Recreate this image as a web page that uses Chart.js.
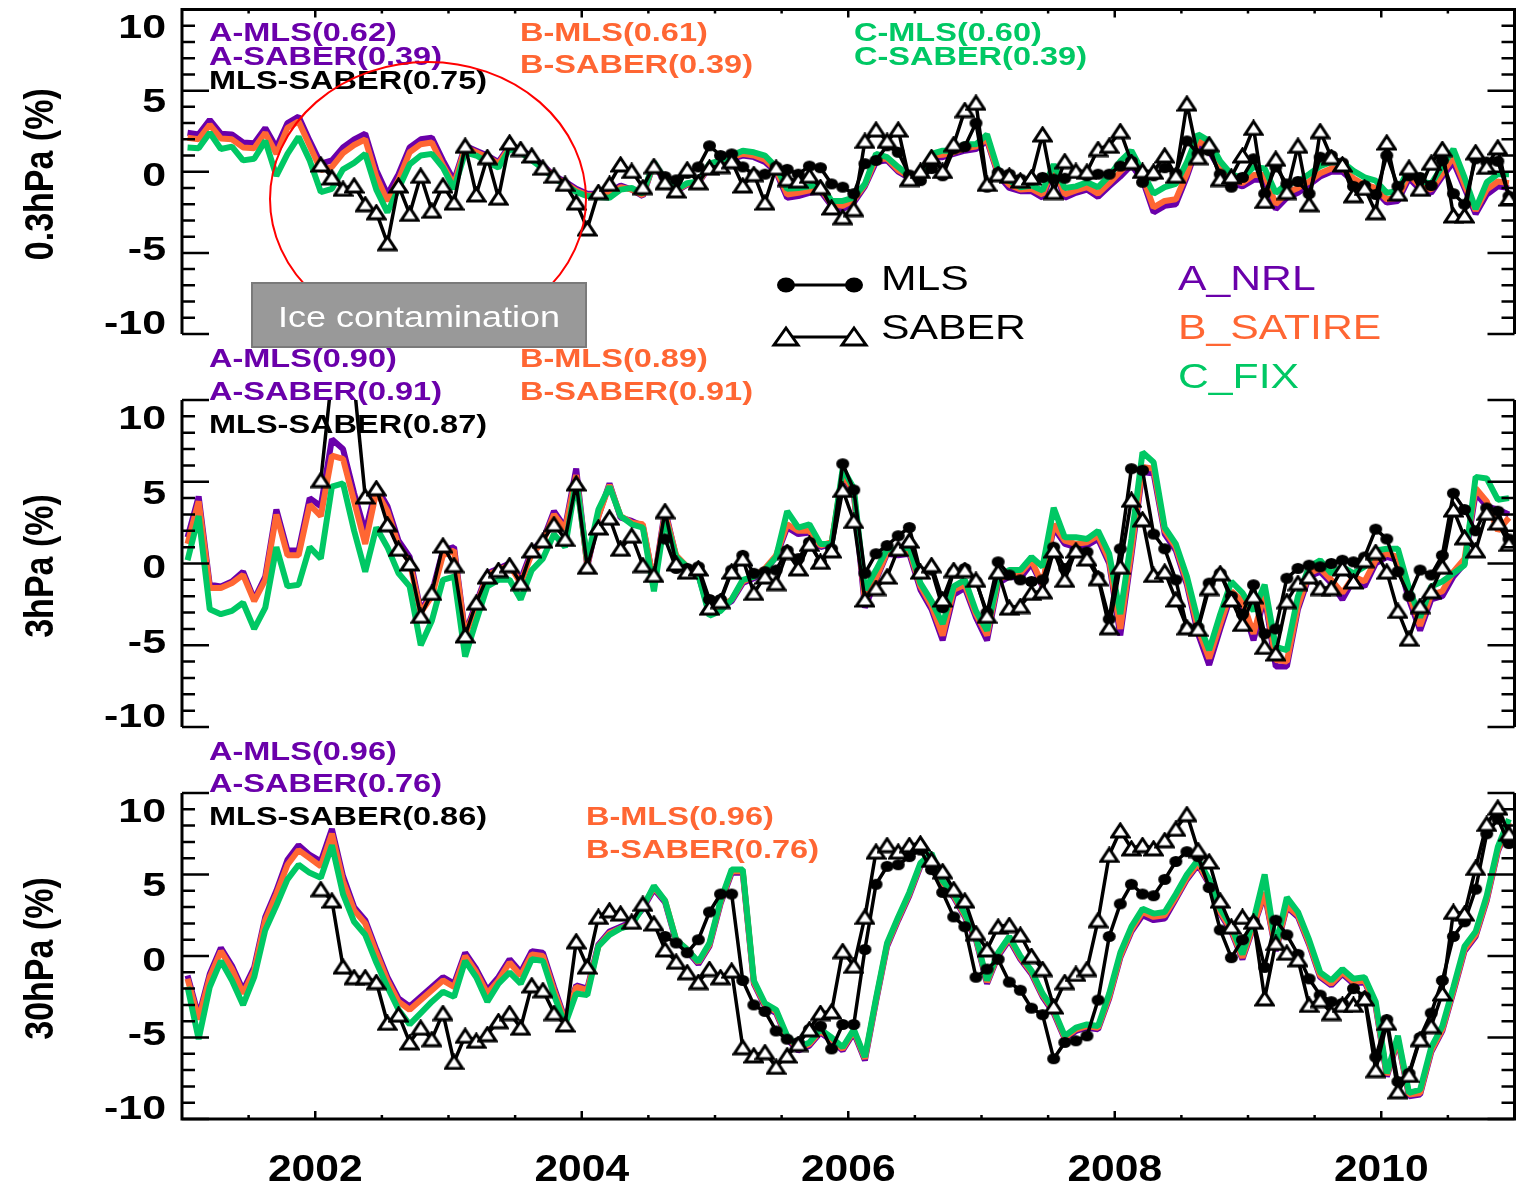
<!DOCTYPE html>
<html>
<head>
<meta charset="utf-8">
<title>MLS / SABER and model anomalies</title>
<script src="https://cdn.jsdelivr.net/npm/chart.js@4.4.0/dist/chart.umd.min.js"></script>
<style>
  body { margin: 0; background: #fff; }
  #wrap { position: relative; width: 1524px; height: 1189px; }
  #wrap canvas { position: absolute; left: 0; top: 0; }
</style>
</head>
<body>
<div id="wrap">
  <canvas id="p03" width="1524" height="1189"></canvas>
  <canvas id="p3" width="1524" height="1189"></canvas>
  <canvas id="p30" width="1524" height="1189"></canvas>
</div>
<script>
const PURPLE = '#6a00aa', ORANGE = '#ff6633', GREEN = '#00c864';
const FONT = '"Liberation Sans", Arial, Helvetica, sans-serif';

// monthly anomalies, Jan 2001 .. Dec 2010
// ---- 0.3 hPa ----
const nrl03 = [
  2.4, 2.3, 3.2, 2.35, 2.3, 1.8, 1.75, 2.7, 1.5, 3.0,
  3.4, 1.9, 0.5, 0.7, 1.5, 2.0, 2.35, 0.1, -1.4, -0.15,
  1.5, 2.0, 2.1, 0.7, -0.55, 1.6, 1.3, 1.0, 0.6, 1.6,
  1.4, 0.9, 0.4, -0.25, -0.6, -1.05, -1.35, -1.35, -1.25, -0.85,
  -1.1, -1.5, 0.5, -0.7, -1.2, -0.8, -0.7, 0.3, 0.5, 0.8,
  1.0, 0.9, 0.6, 0.0, -1.6, -1.5, -1.3, -1.2, -2.1, -2.3,
  -1.9, -0.9, 0.6, 0.7, 0.0, -0.4, -0.4, 0.9, 0.9, 1.1,
  1.3, 1.4, 1.9, -0.2, -1.0, -1.2, -1.2, -1.6, 0.2, -1.6,
  -1.3, -1.1, -1.55, -0.9, -0.3, 0.4, -0.5, -2.5, -2.1, -2.0,
  -0.3, 1.7, 1.3, 0.1, -0.7, -0.9, -0.5, -0.5, -2.3, -1.6,
  -1.3, -0.8, -0.3, 0.0, 0.0, -0.6, -1.0, -1.2, -1.9, -1.8,
  -0.4, -1.1, -1.3, -0.3, 0.6, -1.0, -2.6, -1.4, -0.9, -1.0
];
const satire03 = [
  2.1, 2.0, 2.9, 2.05, 2.0, 1.5, 1.45, 2.4, 1.1, 2.7,
  3.1, 1.6, 0.1, 0.3, 1.15, 1.65, 2.0, -0.3, -1.8, -0.5,
  1.2, 1.7, 1.8, 0.4, -0.8, 1.5, 1.2, 0.9, 0.5, 1.5,
  1.3, 0.8, 0.3, -0.3, -0.7, -1.15, -1.45, -1.45, -1.4, -0.95,
  -1.1, -1.45, 0.55, -0.6, -1.15, -0.75, -0.65, 0.4, 0.6, 0.9,
  1.1, 1.0, 0.75, 0.1, -1.4, -1.3, -1.15, -1.0, -2.0, -2.1,
  -1.75, -0.8, 0.8, 0.8, 0.1, -0.3, -0.3, 1.0, 1.05, 1.2,
  1.45, 1.55, 2.0, -0.1, -0.8, -1.1, -1.05, -1.4, 0.3, -1.4,
  -1.15, -0.95, -1.35, -0.7, 0.0, 0.7, -0.3, -2.2, -1.8, -1.7,
  -0.1, 1.9, 1.5, 0.3, -0.5, -0.7, -0.2, -0.2, -2.0, -1.3,
  -1.0, -0.6, -0.1, 0.2, 0.2, -0.4, -0.8, -1.0, -1.7, -1.6,
  -0.2, -0.9, -1.1, -0.1, 0.9, -0.8, -2.4, -1.1, -0.6, -0.7
];
const fix03 = [
  1.5, 1.45, 2.4, 1.4, 1.55, 0.7, 0.8, 1.9, -0.25, 1.1,
  2.15, 0.7, -1.25, -1.05, 0.15, 0.55, 1.1, -1.1, -2.5, -1.05,
  0.45, 1.0, 1.1, 0.25, -1.05, 1.2, 1.0, 0.6, 0.25, 1.4,
  1.2, 0.7, 0.2, -0.4, -0.8, -1.25, -1.5, -1.55, -1.6, -1.1,
  -1.0, -1.35, 0.6, -0.5, -1.1, -0.7, -0.6, 0.5, 0.7, 1.0,
  1.3, 1.2, 1.0, 0.3, -1.05, -1.0, -0.9, -0.75, -1.8, -1.8,
  -1.6, -0.75, 1.1, 0.9, 0.3, -0.25, -0.15, 1.1, 1.3, 1.3,
  1.7, 1.7, 2.3, 0.1, -0.55, -0.95, -0.85, -1.15, 0.45, -1.0,
  -0.9, -0.65, -0.95, -0.25, 0.65, 1.3, 0.0, -1.35, -0.95, -0.75,
  0.6, 2.3, 1.9, 0.65, -0.15, -0.4, 0.3, 0.2, -1.3, -0.75,
  -0.6, -0.15, 0.35, 0.6, 0.6, 0.05, -0.35, -0.55, -1.3, -1.2,
  0.25, -0.55, -0.75, 0.35, 1.4, -0.35, -2.3, -0.65, -0.15, -0.15
];
const mls03 = [
  -0.3, -0.5, -0.1, 0.3, 1.6, 1.0, 1.1,
  0.3, -0.15, -0.15, 0.3, 0.15, -0.15, 0.35, 0.25, -0.75, -0.95,
  -1.35, 0.5, 0.7, 1.6, 1.2, -0.2, -0.55, 0.2, -0.25, 1.4,
  1.55, 3.0, -0.95, -0.05, -0.15, -0.45, -0.5, -0.35, -0.45, -0.4,
  -0.05, -0.25, -0.15, -0.15, 0.35, 0.65, -0.65, -0.25, 0.25, -0.1,
  1.9, 1.1, 1.3, -0.15, -0.95, -0.35, 0.8, -1.35, 0.3, -0.75,
  -0.6, -1.35, 0.9, 1.0, 0.55, -0.9, -0.85, -1.4, 1.0, -0.9,
  -0.25, -0.35, -0.85, 0.7, -1.35, -2.0, 0.8, 0.6, 0.65, -1.5
];
const saber03 = [
  0.45, -0.35, -1.05, -0.85, -2.0, -2.5, -4.4, -0.85,
  -2.6, -0.25, -2.4, -0.85, -1.9, 1.6, -1.4, 0.9, -1.6, 1.8,
  1.4, 1.0, 0.25, -0.25, -0.75, -1.9, -3.5, -1.25, -0.75, 0.45,
  0.05, -0.95, 0.35, -0.65, -1.15, 0.15, -0.65, 0.25, 0.35, 0.65,
  -0.85, -0.15, -1.9, 0.25, -0.45, -0.55, -0.25, -0.95, -2.2, -2.8,
  -2.3, 1.9, 2.6, 1.9, 2.6, -0.45, 0.05, 0.9, 0.05, 1.7,
  3.8, 4.25, -0.75, -0.15, -0.25, -0.55, -0.35, 2.3, -1.25, 0.65,
  0.05, 0.0, 1.4, 1.6, 2.5, 0.6, 0.05, 0.0, 1.0, -0.25,
  4.2, 0.9, 1.7, -0.45, -0.3, 1.0, 2.7, -1.8, 0.8, -1.25,
  1.6, -2.0, 2.5, 0.9, 0.45, -1.45, -1.0, -2.5, 1.8, -1.35,
  0.25, -1.05, 0.55, 1.4, -2.7, -2.7, 1.2, 0.3, 1.5, -1.65
];

// ---- 3 hPa ----
const nrl3 = [
  1.6, 4.1, -1.3, -1.4, -1.1, -0.5, -2.2, -0.8, 3.3, 0.8,
  0.8, 4.0, 3.5, 7.6, 7.0, 4.3, 1.9, 4.7, 3.5, 1.4,
  0.4, -2.9, -1.8, 0.8, 1.0, -4.3, -2.4, -0.6, -0.3, 0.0,
  -1.0, 0.8, 1.4, 3.2, 2.2, 5.8, -0.2, 2.9, 4.9, 2.8,
  2.6, 2.3, -1.2, 3.3, 0.4, -0.3, -0.7, -3.0, -2.7, -2.3,
  -1.2, -0.9, -0.4, 0.4, 2.2, 1.8, 1.9, 1.0, 1.2, 5.4,
  4.3, -2.7, -1.0, 0.6, 0.5, 0.6, -1.6, -2.8, -4.7, -1.9,
  -1.5, -3.3, -4.7, -1.2, -0.8, -0.9, 0.0, -1.4, 2.2, 1.2,
  1.0, 1.1, 1.5, 0.0, -4.4, 0.5, 5.6, 5.5, 1.8, 0.8,
  -1.3, -4.3, -6.2, -4.0, -1.9, -2.5, -4.7, -2.0, -6.3, -6.3,
  -2.8, -0.8, -0.5, -1.2, -2.2, -1.0, -1.4, 0.0, 0.4, 0.2,
  -2.2, -4.1, -2.2, -2.0, -0.8, 0.0, 4.3, 3.5, 3.3, 3.0
];
const satire3 = [
  1.2, 3.8, -1.5, -1.5, -1.2, -0.7, -2.3, -1.0, 3.0, 0.5,
  0.5, 3.6, 2.9, 6.6, 6.4, 3.8, 1.2, 4.4, 3.2, 1.1,
  0.1, -3.0, -2.0, 0.5, 0.8, -4.4, -2.6, -0.7, -0.4, -0.1,
  -1.2, 0.6, 1.3, 3.0, 2.1, 5.4, -0.1, 2.9, 4.8, 2.9,
  2.5, 2.4, -1.2, 3.1, 0.5, -0.2, -0.6, -2.9, -2.6, -2.2,
  -1.1, -0.8, -0.3, 0.5, 2.4, 2.0, 2.0, 1.1, 1.3, 5.5,
  4.4, -2.3, -0.9, 0.7, 0.7, 0.8, -1.4, -2.6, -4.4, -1.6,
  -1.3, -3.1, -4.4, -1.0, -0.6, -0.6, 0.2, -1.3, 2.4, 1.4,
  1.2, 1.3, 1.7, 0.2, -4.0, 0.8, 5.9, 5.8, 2.0, 1.0,
  -1.1, -4.0, -5.8, -3.7, -1.7, -2.3, -4.3, -1.8, -5.9, -6.0,
  -2.6, -0.6, -0.3, -1.0, -1.8, -0.8, -1.1, 0.2, 0.6, 0.4,
  -1.9, -3.8, -1.9, -1.7, -0.5, 0.3, 4.6, 3.8, 2.0, 2.8
];
const fix3 = [
  0.2, 2.9, -2.8, -3.1, -2.9, -2.4, -4.0, -2.7, 1.0, -1.4,
  -1.3, 1.0, 0.3, 4.7, 4.9, 2.0, -0.5, 2.2, 1.0, -0.6,
  -1.4, -5.0, -3.5, -1.0, -0.8, -5.7, -3.5, -1.4, -1.0, -1.0,
  -2.2, -0.4, 0.3, 1.8, 1.0, 5.1, 0.2, 3.3, 4.7, 2.9,
  2.4, 2.2, -1.7, 2.8, 0.4, -0.2, -0.7, -3.2, -2.9, -2.2,
  -1.0, -0.8, -0.4, 0.4, 3.2, 2.2, 2.4, 1.2, 1.2, 5.8,
  4.6, -1.6, -0.4, 0.9, 0.8, 1.0, -1.2, -2.3, -3.7, -1.4,
  -1.0, -2.9, -4.1, -0.8, -0.4, -0.4, 0.4, -0.2, 3.4, 1.6,
  1.6, 1.5, 2.0, 0.6, -3.1, 1.5, 6.8, 6.2, 2.2, 1.2,
  -0.8, -3.5, -5.3, -3.1, -1.1, -1.8, -2.9, -1.3, -5.1, -5.3,
  -2.0, -0.2, 0.2, -0.6, -0.2, -0.6, -0.2, 0.8, 0.9, 0.9,
  -1.5, -3.3, -1.4, -1.1, -0.6, -0.1, 5.3, 5.2, 3.9, 4.0
];
const mls3 = [
  1.5, -0.3, -0.3, -0.2, -2.2, -2.2, -0.4,
  0.5, -0.6, -0.5, -0.4, 0.8, 0.3, 1.3, 0.1, 0.9, 6.1,
  4.5, -0.6, 0.6, 1.1, 1.7, 2.2, -0.5, -0.4, -2.7, -0.5,
  -0.3, -1.1, -3.0, 0.1, -0.7, -1.0, -1.1, -1.0, 1.0, -0.3,
  0.8, 0.7, -0.8, -3.4, 0.9, 5.8, 5.7, 1.8, 0.9, -1.0,
  -3.9, -3.9, -1.2, -0.6, -2.0, -3.1, -1.3, -4.3, -4.0, -0.9,
  -0.3, -0.1, -0.2, 0.0, 0.2, 0.1, 0.4, 2.1, 1.5, -0.5,
  -2.0, -0.4, -0.7, 0.5, 4.3, 3.3, 2.0, 3.4, 3.2, 1.5
];
const saber3 = [
  5.1, 11.5, 12.0, 11.0, 4.1, 4.6, 2.4, 0.9,
  0.0, -3.2, -1.8, 1.1, -0.1, -4.4, -2.4, -0.8, -0.4, -0.1,
  -1.2, 0.8, 1.4, 2.4, 1.5, 4.9, -0.2, 2.2, 2.8, 0.9,
  1.7, -0.1, -0.7, 3.2, 0.0, -0.5, -0.3, -2.7, -2.3, -0.5,
  0.3, -1.8, -0.8, -1.2, 0.7, -0.3, 1.2, 0.1, 0.8, 4.5,
  2.6, -2.2, -1.5, -0.8, 0.9, 1.4, -0.5, -0.1, -2.2, -0.4,
  -0.4, -1.0, -3.2, -0.5, -2.7, -2.6, -1.8, -1.7, 0.8, -1.0,
  0.8, 0.3, -0.9, -3.9, -0.2, 3.9, 2.7, -0.7, -0.5, -2.2,
  -3.9, -4.0, -1.5, -0.6, -2.2, -3.7, -2.0, -5.1, -5.5, -2.3,
  -1.2, -0.8, -1.5, -1.5, -0.3, -1.1, 0.2, 0.7, -0.5, -2.9,
  -4.6, -2.6, -1.7, -0.2, 3.3, 1.6, 0.8, 3.1, 2.5, 1.2
];

// ---- 30 hPa ----
const nrl30 = [
  -1.2, -3.7, -1.1, 0.5, -0.6, -2.1, -0.7, 2.4, 4.0, 5.9,
  6.8, 6.2, 5.8, 7.8, 4.9, 3.0, 2.2, 0.4, -1.3, -2.6,
  -3.1, -2.5, -1.9, -1.3, -1.7, 0.2, -0.8, -2.1, -1.3, -0.2,
  -1.0, 0.3, 0.2, -1.9, -3.9, -1.8, -2.0, 0.7, 1.5, 1.8,
  2.1, 2.9, 4.1, 3.3, 0.9, 0.3, -0.5, 0.6, 3.2, 5.1,
  5.1, -1.7, -3.1, -3.5, -5.1, -5.8, -5.5, -4.7, -5.2, -5.8,
  -4.7, -6.4, -2.8, 0.6, 2.2, 3.7, 5.5, 6.1, 4.4, 3.6,
  2.4, 1.0, -1.7, 0.0, 1.0, -0.2, -1.1, -2.5, -3.5, -5.1,
  -4.6, -4.4, -4.5, -2.6, -0.1, 1.5, 2.5, 2.2, 2.3, 3.5,
  4.7, 5.6, 4.4, 2.6, 1.5, -0.2, 1.8, 3.8, 0.3, 3.0,
  2.4, 0.7, -1.3, -1.8, -1.1, -1.7, -1.6, -3.1, -7.4, -5.2,
  -8.6, -8.5, -5.9, -4.6, -2.2, 0.3, 1.2, 3.4, 6.4, 8.1
];
const satire30 = [
  -1.4, -3.9, -1.3, 0.3, -0.8, -2.3, -0.9, 2.2, 3.8, 5.6,
  6.5, 6.0, 5.5, 7.5, 4.6, 2.8, 2.0, 0.2, -1.5, -2.8,
  -3.3, -2.7, -2.1, -1.5, -1.9, 0.0, -1.0, -2.3, -1.5, -0.4,
  -1.2, 0.1, 0.0, -2.1, -4.0, -1.9, -2.1, 0.6, 1.4, 1.7,
  2.0, 3.0, 4.2, 3.4, 1.0, 0.4, -0.4, 0.7, 3.3, 5.2,
  5.2, -1.6, -3.0, -3.4, -5.0, -5.7, -5.4, -4.6, -5.1, -5.7,
  -4.6, -6.3, -2.7, 0.7, 2.3, 3.8, 5.6, 6.2, 4.5, 3.7,
  2.5, 1.1, -1.6, 0.1, 1.1, -0.1, -1.0, -2.4, -3.4, -5.0,
  -4.5, -4.3, -4.4, -2.5, 0.0, 1.6, 2.7, 2.4, 2.5, 3.6,
  4.8, 5.7, 4.5, 2.7, 1.6, -0.1, 1.9, 3.9, 0.4, 3.1,
  2.5, 0.8, -1.2, -1.7, -1.0, -1.6, -1.5, -3.0, -7.3, -5.1,
  -8.5, -8.4, -5.8, -4.5, -2.1, 0.4, 1.3, 3.5, 6.5, 8.2
];
const fix30 = [
  -1.9, -5.1, -1.9, -0.3, -1.5, -3.0, -1.3, 1.6, 3.1, 4.7,
  5.6, 5.1, 4.8, 6.8, 3.8, 2.1, 1.3, -0.4, -1.9, -3.3,
  -4.2, -3.5, -2.8, -2.2, -2.5, -0.3, -1.3, -2.8, -1.7, -1.0,
  -1.7, -0.2, -0.3, -2.4, -4.2, -2.3, -2.4, 0.6, 1.3, 1.7,
  1.9, 3.0, 4.3, 3.4, 1.0, 0.4, -0.35, 0.8, 3.4, 5.3,
  5.3, -1.5, -2.9, -3.3, -4.9, -5.6, -5.3, -4.5, -5.0, -5.6,
  -4.5, -6.2, -2.6, 0.8, 2.4, 3.9, 5.7, 6.3, 4.6, 3.8,
  2.6, 1.2, -1.5, 0.2, 1.2, 0.0, -0.9, -2.3, -3.3, -4.9,
  -4.4, -4.2, -4.3, -2.3, 0.2, 1.8, 2.9, 2.6, 2.7, 3.8,
  5.0, 5.9, 4.7, 2.9, 1.8, 0.1, 2.2, 5.0, 0.6, 3.6,
  2.7, 1.0, -1.0, -1.5, -0.8, -1.4, -1.3, -2.8, -7.2, -4.9,
  -8.4, -8.2, -5.6, -4.3, -1.9, 0.6, 1.5, 3.7, 6.7, 8.4
];
const mls30 = [
  1.2, 0.8, 0.2, 1.0, 2.7, 3.8, 3.8,
  -1.5, -3.0, -3.4, -4.6, -5.1, -5.3, -4.5, -4.3, -5.7, -4.2,
  -4.2, 0.4, 4.4, 5.5, 5.6, 6.1, 6.5, 5.3, 3.9, 2.4,
  1.8, -1.3, -0.8, -0.2, -1.6, -2.1, -3.2, -3.6, -6.3, -5.3,
  -5.2, -4.9, -2.7, 1.2, 3.2, 4.4, 3.8, 3.7, 4.7, 5.8,
  6.4, 6.1, 4.2, 1.6, -0.1, 1.0, 2.1, -0.7, 2.2, 1.3,
  0.1, -1.4, -2.4, -2.8, -2.9, -2.0, -2.5, -6.2, -3.9, -7.7,
  -7.2, -5.0, -3.5, -1.5, 1.2, 2.1, 4.1, 7.5, 8.4, 6.9
];
const saber30 = [
  4.1, 3.4, -0.65, -1.3, -1.3, -1.6, -4.1, -3.6,
  -5.3, -4.4, -5.1, -3.5, -6.5, -4.9, -5.2, -4.8, -4.0, -3.5,
  -4.4, -1.8, -2.1, -3.5, -4.2, 0.9, -0.65, 2.4, 2.8, 2.6,
  2.1, 3.2, 2.0, 0.4, -0.35, -1.0, -1.6, -0.8, -1.3, -0.9,
  -5.6, -6.1, -5.9, -6.8, -6.1, -5.4, -4.5, -3.5, -3.4, 0.3,
  -0.6, 2.4, 6.4, 6.8, 6.4, 6.8, 6.9, 5.9, 5.2, 4.1,
  3.4, 1.4, 0.4, 1.8, 1.9, 1.3, 0.0, -0.8, -3.1, -1.6,
  -1.1, -0.8, 2.2, 6.2, 7.7, 6.6, 6.8, 6.6, 7.1, 7.8,
  8.7, 6.5, 5.8, 3.4, 1.8, 2.4, 2.1, -2.6, 0.8, 0.2,
  -0.2, -3.0, -2.7, -3.5, -3.0, -3.0, -2.6, -7.0, -4.1, -8.3,
  -7.3, -5.1, -4.3, -2.3, 2.7, 2.6, 5.4, 8.1, 9.1, 7.5
];

const mlsFrom = 43;    // first MLS month (Aug 2004)
const saberFrom = 12;  // first SABER month (Jan 2002)

const yearTicks = [2002, 2004, 2006, 2008, 2010];
const yTicks = [10, 5, 0, -5, -10];

// correlation notes: text, left x, cap centre y, colour
const notes = [
  ['A-MLS(0.62)', 209, 32, PURPLE], ['A-SABER(0.39)', 209, 56, PURPLE], ['MLS-SABER(0.75)', 209, 80, '#000'],
  ['B-MLS(0.61)', 520, 32, ORANGE], ['B-SABER(0.39)', 520, 64, ORANGE],
  ['C-MLS(0.60)', 854, 32, GREEN], ['C-SABER(0.39)', 854, 56, GREEN],
  ['A-MLS(0.90)', 209, 358, PURPLE], ['A-SABER(0.91)', 209, 391, PURPLE], ['MLS-SABER(0.87)', 209, 424, '#000'],
  ['B-MLS(0.89)', 520, 358, ORANGE], ['B-SABER(0.91)', 520, 391, ORANGE],
  ['A-MLS(0.96)', 209, 751, PURPLE], ['A-SABER(0.76)', 209, 783, PURPLE], ['MLS-SABER(0.86)', 209, 816, '#000'],
  ['B-MLS(0.96)', 586, 816, ORANGE], ['B-SABER(0.76)', 586, 849, ORANGE]
];

const months = [];
for (let i = 0; i < 120; i++) months.push(2001 + (i + 0.5) / 12);

function pts(values, from) {
  return values.map((v, i) => ({ x: months[from + i], y: v }));
}

// text helper: y is the middle of the capitals, sx widens the glyphs
function label(ctx, s, x, y, o) {
  ctx.save();
  ctx.font = (o.weight || 'bold') + ' ' + o.size + 'px ' + FONT;
  ctx.fillStyle = o.color || '#000';
  ctx.textAlign = o.align || 'left';
  ctx.textBaseline = 'alphabetic';
  ctx.translate(x, y + o.size * 0.358);
  ctx.scale(o.sx || 1.3, 1);
  ctx.fillText(s, 0, 0);
  ctx.restore();
}

// marker images
function triangleMark(w, h, lw) {
  const c = document.createElement('canvas');
  c.width = w + 4; c.height = h + 4;
  const g = c.getContext('2d');
  g.lineWidth = lw;
  g.beginPath();
  g.moveTo(c.width / 2, 2);
  g.lineTo(w + 2, h + 2);
  g.lineTo(2, h + 2);
  g.closePath();
  g.fillStyle = '#fff';
  g.fill();
  g.strokeStyle = '#000';
  g.stroke();
  return c;
}
function dotMark(rx, ry) {
  const c = document.createElement('canvas');
  c.width = Math.ceil(rx * 2 + 2); c.height = Math.ceil(ry * 2 + 2);
  const g = c.getContext('2d');
  g.fillStyle = '#000';
  g.beginPath();
  g.ellipse(c.width / 2, c.height / 2, rx, ry, 0, 0, Math.PI * 2);
  g.fill();
  return c;
}
const triImg = triangleMark(17, 13, 3);
const dotImg = dotMark(6.5, 5.5);

// axes, inward ticks, tick labels and level title
const frame = {
  id: 'frame',
  afterDatasetsDraw(chart, args, o) {
    const { ctx, chartArea: a, scales: { x, y } } = chart;
    ctx.save();
    ctx.strokeStyle = '#000';
    ctx.lineWidth = 3;
    ctx.beginPath();
    ctx.moveTo(a.left, a.top); ctx.lineTo(a.left, a.bottom);
    ctx.moveTo(a.right, a.top); ctx.lineTo(a.right, a.bottom);
    if (o.top) { ctx.moveTo(a.left - 1.5, a.top); ctx.lineTo(a.right + 1.5, a.top); }
    if (o.bottom) { ctx.moveTo(a.left - 1.5, a.bottom); ctx.lineTo(a.right + 1.5, a.bottom); }
    ctx.stroke();

    ctx.lineWidth = 2.5;
    ctx.beginPath();
    for (let v = -10; v <= 10; v++) {
      const py = y.getPixelForValue(v);
      const len = v % 5 === 0 ? 27 : 13;
      ctx.moveTo(a.left, py); ctx.lineTo(a.left + len, py);
      ctx.moveTo(a.right, py); ctx.lineTo(a.right - len, py);
    }
    for (let t = 2001.5; t < 2011; t += 0.5) {
      const px = x.getPixelForValue(t);
      const len = t % 2 === 0 ? 8 : 4;
      if (o.top) { ctx.moveTo(px, a.top); ctx.lineTo(px, a.top + len); }
      if (o.bottom) { ctx.moveTo(px, a.bottom); ctx.lineTo(px, a.bottom - len); }
    }
    ctx.stroke();

    // value labels sit a little closer together than the ticks
    const zero = y.getPixelForValue(0);
    yTicks.forEach(v => {
      const ly = zero + 2.8 + (y.getPixelForValue(v) - zero) * 0.912;
      label(ctx, String(v), 166, ly, { size: 33, align: 'right', sx: 1.3 });
    });

    if (o.bottom) {
      yearTicks.forEach(t => {
        label(ctx, String(t), x.getPixelForValue(t), 1168, { size: 37, align: 'center', sx: 1.15 });
      });
    }

    // rotated level title
    ctx.save();
    ctx.translate(38, (a.top + a.bottom) / 2 + 2.5);
    ctx.rotate(-Math.PI / 2);
    ctx.scale(1, 1.2);
    ctx.font = 'bold 34px ' + FONT;
    ctx.fillStyle = '#000';
    ctx.textAlign = 'center';
    ctx.fillText(o.title, 0, 34 * 0.358);
    ctx.restore();
    ctx.restore();
  }
};

// correlation notes, legend, ice contamination marker
const decorations = {
  id: 'decorations',
  afterDraw(chart) {
    const ctx = chart.ctx;
    notes.forEach(n => label(ctx, n[0], n[1], n[2], { size: 25, color: n[3], sx: 1.3 }));

    ctx.save();
    ctx.strokeStyle = '#000';
    ctx.lineWidth = 3;
    ctx.beginPath();
    ctx.moveTo(786, 285); ctx.lineTo(854, 285);
    ctx.moveTo(786, 337); ctx.lineTo(854, 337);
    ctx.stroke();
    ctx.fillStyle = '#000';
    [786, 854].forEach(cx => {
      ctx.beginPath();
      ctx.ellipse(cx, 285, 9, 7.5, 0, 0, Math.PI * 2);
      ctx.fill();
    });
    ctx.lineWidth = 3;
    [786, 854].forEach(cx => {
      ctx.beginPath();
      ctx.moveTo(cx, 328); ctx.lineTo(cx + 12, 345); ctx.lineTo(cx - 12, 345);
      ctx.closePath();
      ctx.fillStyle = '#fff';
      ctx.fill();
      ctx.stroke();
    });
    ctx.restore();
    label(ctx, 'MLS', 881, 277, { size: 35, weight: 'normal', sx: 1.22 });
    label(ctx, 'SABER', 881, 326, { size: 35, weight: 'normal', sx: 1.22 });
    label(ctx, 'A_NRL', 1178, 277, { size: 35, weight: 'normal', sx: 1.22, color: PURPLE });
    label(ctx, 'B_SATIRE', 1178, 326, { size: 35, weight: 'normal', sx: 1.22, color: ORANGE });
    label(ctx, 'C_FIX', 1178, 375, { size: 35, weight: 'normal', sx: 1.22, color: GREEN });

    ctx.save();
    ctx.strokeStyle = '#ff0000';
    ctx.lineWidth = 2;
    ctx.beginPath();
    ctx.ellipse(428, 199, 158, 137, 0, 0, Math.PI * 2);
    ctx.stroke();
    ctx.fillStyle = '#999999';
    ctx.fillRect(252, 283, 334, 64);
    ctx.strokeStyle = '#7a7a7a';
    ctx.lineWidth = 2;
    ctx.strokeRect(252, 283, 334, 64);
    ctx.restore();
    label(ctx, 'Ice contamination', 419, 316, { size: 30, weight: 'normal', sx: 1.2, align: 'center', color: '#fff' });
  }
};

function panel(id, series, pad, frameOpts, extra) {
  const line = (label, data, color, width) => ({
    label, data, borderColor: color, borderWidth: width, pointRadius: 0, clip: 0
  });
  new Chart(document.getElementById(id), {
    type: 'line',
    data: {
      datasets: [
        { label: 'SABER', data: pts(series.saber, saberFrom), borderColor: '#000', borderWidth: 3.5,
          pointStyle: triImg, pointRadius: 6, clip: 0 },
        { label: 'MLS', data: pts(series.mls, mlsFrom), borderColor: '#000', borderWidth: 3.5,
          pointStyle: dotImg, pointRadius: 6, clip: 0 },
        line('C_FIX', pts(series.fix, 0), GREEN, 6),
        line('B_SATIRE', pts(series.satire, 0), ORANGE, 6),
        line('A_NRL', pts(series.nrl, 0), PURPLE, 6)
      ]
    },
    options: {
      responsive: false,
      animation: false,
      events: [],
      devicePixelRatio: 1,
      layout: { padding: pad },
      elements: { line: { tension: 0, borderJoinStyle: 'bevel' } },
      scales: {
        x: { type: 'linear', min: 2001, max: 2011, display: false },
        y: { min: -10, max: 10, display: false }
      },
      plugins: { legend: { display: false }, tooltip: { enabled: false }, frame: frameOpts }
    },
    plugins: extra ? [frame, extra] : [frame]
  });
}

panel('p03', { nrl: nrl03, satire: satire03, fix: fix03, mls: mls03, saber: saber03 },
  { left: 182, right: 1, top: 8, bottom: 855 }, { top: true, bottom: false, title: '0.3hPa (%)' });
panel('p3', { nrl: nrl3, satire: satire3, fix: fix3, mls: mls3, saber: saber3 },
  { left: 182, right: 1, top: 400, bottom: 462 }, { top: false, bottom: false, title: '3hPa (%)' });
panel('p30', { nrl: nrl30, satire: satire30, fix: fix30, mls: mls30, saber: saber30 },
  { left: 182, right: 1, top: 793, bottom: 70 }, { top: false, bottom: true, title: '30hPa (%)' }, decorations);
</script>
</body>
</html>
